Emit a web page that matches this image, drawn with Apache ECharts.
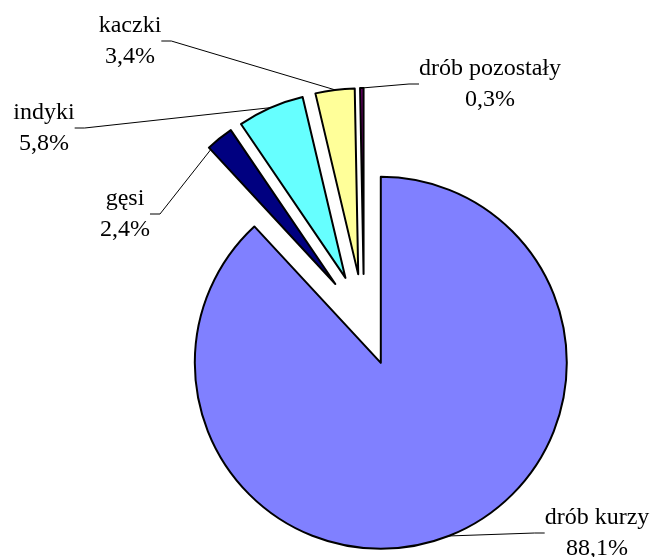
<!DOCTYPE html>
<html>
<head>
<meta charset="utf-8">
<script src="https://cdn.jsdelivr.net/npm/echarts@6/dist/echarts.min.js"></script>
<style>
  html, body { margin: 0; padding: 0; background: #ffffff; }
  #chart { width: 655px; height: 557px; }
</style>
</head>
<body>
<div id="chart"></div>
<script>
// ---- data ----
const categories = ['drób kurzy', 'gęsi', 'indyki', 'kaczki', 'drób pozostały'];
const shares = [88.1, 2.4, 5.8, 3.4, 0.3];

// ---- styles ----
const palette = ['#8080FF', '#000080', '#66FFFF', '#FFFF99', '#660066'];

// ---- layout ----
const pieCenter = [364, 320];
const pieRadius = 186;
const explode = 46;
const labelSpots = [[597, 533], [125, 214], [44, 128], [130, 41], [490, 84]];

const chart = echarts.init(document.getElementById('chart'), null, { renderer: 'canvas' });

function fmt(p) {
  return p.name + '\n' + p.value.toFixed(1).replace('.', ',') + '%';
}

const total = shares.reduce(function (a, b) { return a + b; }, 0);
let cum = 0;
const series = categories.map(function (cat, k) {
  const mid = (cum + shares[k] / 2) / total * 2 * Math.PI;
  cum += shares[k];
  const c = [pieCenter[0] + explode * Math.sin(mid), pieCenter[1] - explode * Math.cos(mid)];
  return {
    type: 'pie',
    name: cat,
    center: c,
    radius: pieRadius,
    startAngle: 90,
    clockwise: true,
    avoidLabelOverlap: false,
    minAngle: 0,
    emphasis: { disabled: true },
    silent: true,
    label: {
      show: true,
      position: 'outside',
      formatter: fmt,
      fontFamily: 'Liberation Serif, serif',
      fontSize: 24,
      lineHeight: 31,
      color: '#000000'
    },
    labelLine: {
      show: true,
      length: 10,
      length2: 10,
      lineStyle: { color: '#000000', width: 1 }
    },
    labelLayout: function (params) {
      const s = labelSpots[params.dataIndex];
      return { x: s[0], y: s[1], align: 'center', verticalAlign: 'middle' };
    },
    data: categories.map(function (name, i) {
      if (i === k) {
        return {
          name: name, value: shares[i],
          itemStyle: { color: palette[i], borderColor: '#000000', borderWidth: 2 }
        };
      }
      return {
        name: name, value: shares[i],
        itemStyle: { color: 'rgba(0,0,0,0)', borderWidth: 0 },
        label: { show: false },
        labelLine: { show: false }
      };
    })
  };
});

chart.setOption({
  animation: false,
  backgroundColor: '#ffffff',
  series: series
});
</script>
</body>
</html>
